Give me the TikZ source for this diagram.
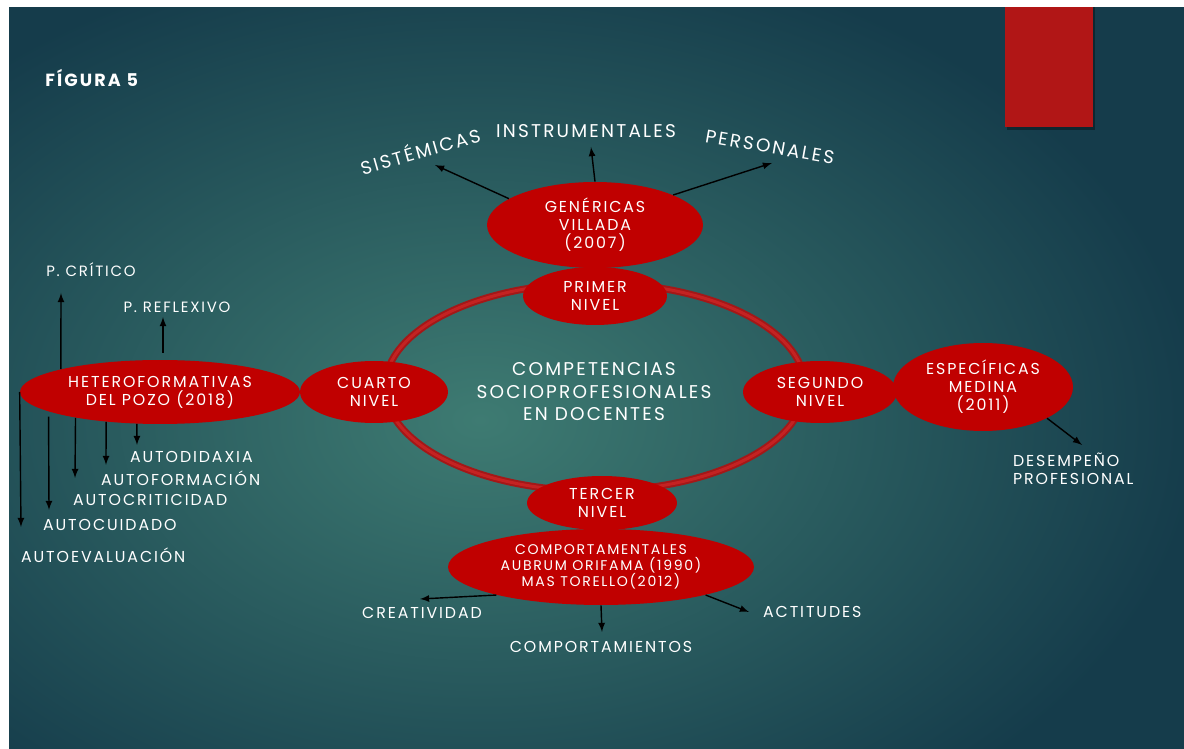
\documentclass[tikz,border=0pt]{standalone}
\usepackage{fontspec}
\setmainfont{Poppins}[LetterSpace=12]
\usepackage{tikz}
\usetikzlibrary{shapes.geometric,calc}
\definecolor{bgDark}{HTML}{153C4B}
\definecolor{bgLight}{HTML}{3E7B72}
\definecolor{nodeRed}{HTML}{C00000}
\definecolor{ringRed}{HTML}{A31818}
\definecolor{ringLight}{HTML}{C42222}
\definecolor{tabRed}{HTML}{B11616}

\begin{document}
\begin{tikzpicture}[x=0.02cm,y=-0.02cm,
    every node/.style={text=white,align=center,font=\fontsize{9}{10.3}\selectfont},
    nivel/.style={ellipse,fill=nodeRed,inner sep=0pt},
    etiq/.style={inner sep=1pt},
    arco/.style={inner sep=1pt,font=\fontsize{10.5}{12}\selectfont},
    flecha/.style={-latex,line width=0.8pt,black}]

    % Define the background
    \useasboundingbox (0,0) rectangle (1184,749);
    \begin{scope}
        \clip (9,7) rectangle (1184,749);
        \fill[bgDark] (9,7) rectangle (1184,749);
        \shade[inner color=bgLight,outer color=bgDark] (480,420) ellipse (720 and 480);
    \end{scope}
    \fill[white] (0,0) rectangle (1184,7);
    \fill[white] (0,0) rectangle (9,749);
    \fill[black,opacity=0.35] (1007,7) rectangle (1095,130);
    \fill[tabRed] (1005,7) rectangle (1093,127);

    \node[anchor=west,inner sep=0pt,font=\bfseries\fontsize{10}{12}\selectfont] (fig) at (45,78) {FÍGURA 5};

    % the ring of levels
    \draw[ringRed,line width=0.14cm] (595,387) ellipse (210 and 104);
    \draw[ringLight,line width=0.06cm] (595,387) ellipse (210 and 104);

    \node[font=\fontsize{10.5}{12.8}\selectfont] (cTit) at (594,392) {COMPETENCIAS\\SOCIOPROFESIONALES\\EN DOCENTES};

    % Define the red ellipses
    \node[nivel,minimum width=4.32cm,minimum height=1.72cm] (eGen) at (595,225) {GENÉRICAS\\VILLADA\\(2007)};
    \node[nivel,minimum width=2.88cm,minimum height=1.16cm] (nPrimer) at (595,296) {PRIMER\\NIVEL};
    \node[nivel,minimum width=5.6cm,minimum height=1.28cm] (eHet) at (160,392) {HETEROFORMATIVAS\\DEL POZO (2018)};
    \node[nivel,minimum width=2.96cm,minimum height=1.24cm] (nCuarto) at (374,392) {CUARTO\\NIVEL};
    \node[nivel,minimum width=3.08cm,minimum height=1.24cm] (nSegundo) at (820,392) {SEGUNDO\\NIVEL};
    \node[nivel,minimum width=3.6cm,minimum height=1.76cm] (eEsp) at (983,387) {ESPECÍFICAS\\MEDINA\\(2011)};
    \node[nivel,minimum width=3.0cm,minimum height=1.08cm] (nTercer) at (602,503) {TERCER\\NIVEL};
    \node[nivel,minimum width=6.12cm,minimum height=1.52cm,font=\fontsize{8}{9.2}\selectfont] (eCom) at (601,567) {COMPORTAMENTALES\\AUBRUM ORIFAMA (1990)\\MAS TORELLO(2012)};

    % labels round GENERICAS
    \node[arco,rotate=16] (lSis) at (420,150) {SISTÉMICAS};
    \node[arco] (lIns) at (586,131) {INSTRUMENTALES};
    \node[arco,rotate=-10] (lPer) at (770,147) {PERSONALES};
    \coordinate (tSis) at (435,165);
    \coordinate (tIns) at (591,147);
    \coordinate (tPer) at (772,163);
    \draw[flecha] (eGen.163) -- (tSis);
    \draw[flecha] (eGen.north) -- (tIns);
    \draw[flecha] (eGen.21) -- (tPer);

    % labels round HETEROFORMATIVAS
    \node[etiq,font=\fontsize{8.5}{10}\selectfont] (lCri) at (91,270) {P. CRÍTICO};
    \node[etiq,font=\fontsize{8.5}{10}\selectfont] (lRef) at (177,307) {P. REFLEXIVO};
    \node[etiq,anchor=west] (lDid) at (128,457) {AUTODIDAXIA};
    \node[etiq,anchor=west] (lFor) at (99,478) {AUTOFORMACIÓN};
    \node[etiq,anchor=west] (lCrit) at (71,500) {AUTOCRITICIDAD};
    \node[etiq,anchor=west] (lCui) at (41,525) {AUTOCUIDADO};
    \node[etiq,anchor=west] (lEva) at (19,555) {AUTOEVALUACIÓN};
    \coordinate (tCri) at (61,293);
    \coordinate (tRef) at (163,317);
    \coordinate (tDid) at (137,445);
    \coordinate (tFor) at (106,465);
    \coordinate (tCrit) at (75,478);
    \coordinate (tCui) at (49,510);
    \coordinate (tEva) at (21,527);
    \draw[flecha] (eHet.167) -- (tCri);
    \draw[flecha] ($(eHet.north)+(3,-7)$) -- (tRef);
    \draw[flecha] (eHet.234) -- (tDid);
    \draw[flecha] (eHet.209) -- (tFor);
    \draw[flecha] (eHet.197) -- (tCrit);
    \draw[flecha,shorten <=0.1cm] (eHet.190) -- (tCui);
    \draw[flecha] (eHet.west) -- (tEva);

    % label of ESPECIFICAS
    \node[etiq,anchor=west,align=left] (lDes) at (1011,469) {DESEMPEÑO\\PROFESIONAL};
    \coordinate (tDes) at (1082,445);
    \draw[flecha] (eEsp.334) -- (tDes);

    % labels under COMPORTAMENTALES
    \node[etiq] (lCre) at (422,613) {CREATIVIDAD};
    \node[etiq] (lComp) at (601,647) {COMPORTAMIENTOS};
    \node[etiq,anchor=west] (lAct) at (761,612) {ACTITUDES};
    \coordinate (tCre) at (420,599);
    \coordinate (tComp) at (602,632);
    \coordinate (tAct) at (749,612);
    \draw[flecha] (eCom.195) -- (tCre);
    \draw[flecha] (eCom.south) -- (tComp);
    \draw[flecha] (eCom.345) -- (tAct);

\end{tikzpicture}
\end{document}
